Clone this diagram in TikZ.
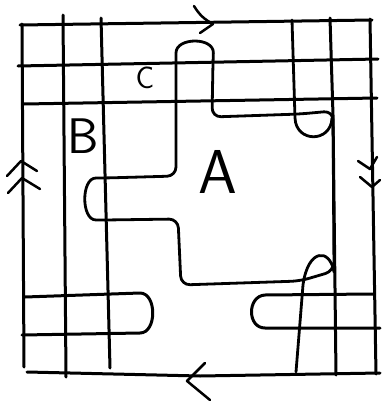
\documentclass[tikz,border=0pt]{standalone}
\usepackage{tikz}

\begin{document}
\begin{tikzpicture}[
    x=1pt, y=-1pt,
    pen/.style={line width=3pt, line cap=round, line join=round},
    loopline/.style={line width=2.8pt, line cap=round, line join=round},
    chev/.style={line width=2.5pt, line cap=round, line join=round},
    every node/.style={inner sep=0pt}
]
\useasboundingbox (0,0) rectangle (387,402);

% Outer square (edges glued)
\draw[pen] (20,25) -- (372,20);
\draw[pen] (22,24) -- (24,367);
\draw[pen] (370,19) -- (376,374);
\draw[pen] (27,372) -- (200,376) -- (380,373);

% Vertical strips
\draw[pen] (63,15) -- (66,377);
\draw[pen] (101,18) -- (110,368);
\draw[pen] (330,18) -- (333,115) -- (336,375);

% Horizontal strips
\draw[pen] (18,66) -- (378,59);
\draw[pen] (24,104) -- (377,98);

% Tongues at the bottom
\draw[pen] (25,297) -- (140,293) .. controls (157,293) and (157,333) .. (140,333) -- (22,335);
\draw[pen] (373,294) -- (265,295) .. controls (247,296) and (247,328) .. (265,328) -- (380,328);

% Boundary of region A
\draw[loopline, rounded corners=9pt]
    (176,150) -- (176,62) .. controls (176,37) and (214,37) .. (213,62)
    -- (212,117) -- (300,114) -- (333,111) -- (334,271)
    -- (300,281) -- (181,285) -- (178,219) -- (105,220)
    .. controls (81,220) and (81,178) .. (105,178) -- (176,176) -- cycle;

% Loops on the right
\draw[loopline] (292,20) -- (295,118) .. controls (296,143) and (331,143) .. (332,118);
\draw[loopline] (334,272) .. controls (330,248) and (308,248) .. (303,285) -- (296,372);

% Edge arrows
\draw[chev] (194,6) to[bend right=15] (213,24) -- (200,33);
\draw[chev] (205,363) -- (187,381) -- (210,400);
\draw[chev] (7,176) -- (21,161) -- (37,171);
\draw[chev] (8,193) -- (22,178) -- (40,189);
\draw[chev] (358,161) -- (370,169) -- (377,157);
\draw[chev] (360,177) -- (372,187) -- (380,180);

% Labels
\node (labA) at (218,172) {\sffamily\fontsize{62}{62}\selectfont A};
\node (labB) at (83,136) {\sffamily\fontsize{50}{50}\selectfont B};
\node (labC) at (145,78) {\sffamily\fontsize{31}{31}\selectfont C};

\end{tikzpicture}
\end{document}
